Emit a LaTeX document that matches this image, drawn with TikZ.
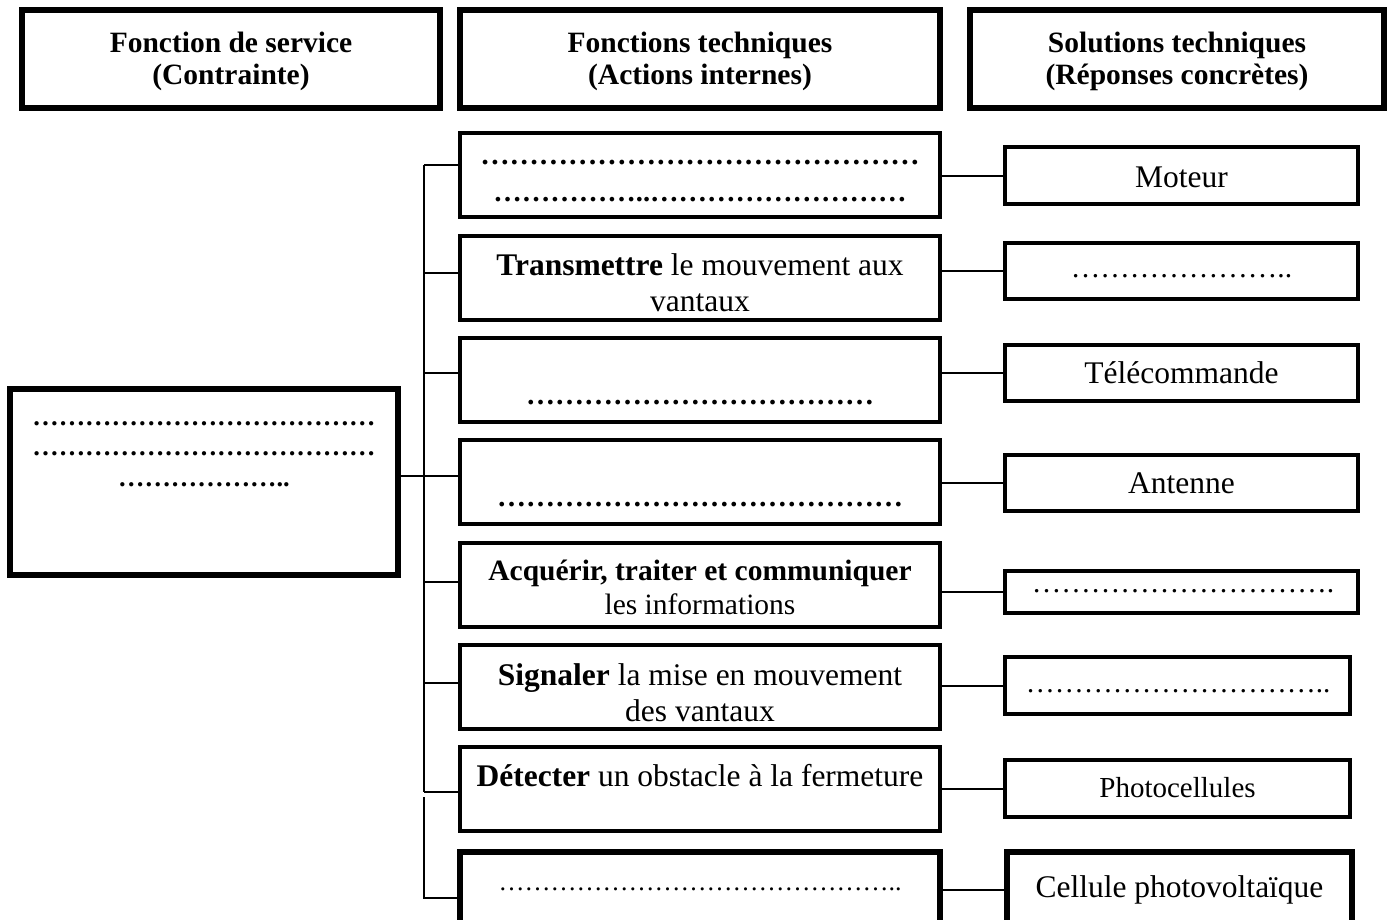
\documentclass[tikz,border=0pt]{standalone}
\usepackage{fontspec}
\setmainfont{Liberation Serif}
\newcommand\ellrep[1]{\foreach \k in {1,...,#1}{…}}
\begin{document}
\begin{tikzpicture}[x=1pt,y=-1pt,
  hdr/.style={draw, line width=5.5pt, inner sep=0pt, minimum height=98pt},
  mbox/.style={draw, line width=4pt, inner sep=0pt, minimum width=480pt, minimum height=84pt},
  rbox/.style={draw, line width=4pt, inner sep=0pt},
  heavy/.style={line width=6pt},
  conn/.style={line width=2pt},
  hdrtxt/.style={inner sep=0pt, align=center, font=\fontsize{29.5}{32}\selectfont\bfseries},
  mtxt/.style={inner sep=0pt, align=center, font=\fontsize{31.5}{36}\selectfont},
  stxt/.style={inner sep=0pt, align=center, font=\fontsize{29.5}{34}\selectfont},
  rtxt/.style={inner sep=0pt, align=center, font=\fontsize{31.5}{36}\selectfont},
  bdots/.style={inner sep=0pt, align=center, font=\fontsize{29}{37}\selectfont\bfseries},
  rdots/.style={inner sep=0pt, align=center, font=\fontsize{29.5}{34}\selectfont}]
\useasboundingbox (0,0) rectangle (1392,919);
\clip (0,0) rectangle (1392,919);
% header boxes
\node[hdr, minimum width=418pt] (H1) at (231,59) {};
\node[hdr, minimum width=480pt] (H2) at (700,59) {};
\node[hdr, minimum width=414pt] (H3) at (1177,59) {};
\node[hdrtxt] (H1t) at (231,61) {Fonction de service\\(Contrainte)};
\node[hdrtxt] (H2t) at (700,61) {Fonctions techniques\\(Actions internes)};
\node[hdrtxt] (H3t) at (1177,61) {Solutions techniques\\(Réponses concrètes)};
% left box
\node[draw, line width=6.5pt, inner sep=0pt, minimum width=388pt, minimum height=186pt] (L) at (204,482) {};
\node[inner sep=0pt, align=center, font=\fontsize{26.4}{30.5}\selectfont\bfseries] (Lt) at (204,454)
  {\ellrep{13}\\\ellrep{13}\\\ellrep{6}..};
% middle boxes
\node[mbox] (M1) at (700,175) {};
\node[mbox] (M2) at (700,278) {};
\node[mbox] (M3) at (700,380) {};
\node[mbox] (M4) at (700,482) {};
\node[mbox] (M5) at (700,584.5) {};
\node[mbox] (M6) at (700,686.5) {};
\node[mbox] (M7) at (700,788.5) {};
\node[mbox, heavy, minimum height=84pt] (M8) at (700,894) {};
\node[bdots] (M1t) at (700,181.5) {{\fontsize{29.3}{37}\selectfont\ellrep{15}}\\{\fontsize{28.5}{37}\selectfont\ellrep{5}..\ellrep{9}}};
\node[mtxt] (M2t) at (700,282.5) {\textbf{Transmettre} le mouvement aux\\vantaux};
\node[bdots] (M3t) at (700,403) {\ellrep{12}};
\node[bdots] (M4t) at (700,505) {\ellrep{14}};
\node[stxt] (M5t) at (700,587) {\textbf{Acquérir, traiter et communiquer}\\les informations};
\node[mtxt] (M6t) at (700,693) {\textbf{Signaler} la mise en mouvement\\des vantaux};
\node[mtxt] (M7t) at (700,776) {\textbf{Détecter} un obstacle à la fermeture};
\node[rdots, font=\fontsize{26}{30}\selectfont] (M8t) at (700,889) {\ellrep{15}..};
% right boxes
\node[rbox, minimum width=353pt, minimum height=57pt] (R1) at (1181.5,175.5) {};
\node[rbox, minimum width=353pt, minimum height=56pt] (R2) at (1181.5,271) {};
\node[rbox, minimum width=353pt, minimum height=56pt] (R3) at (1181.5,373) {};
\node[rbox, minimum width=353pt, minimum height=56pt] (R4) at (1181.5,483) {};
\node[rbox, minimum width=353pt, minimum height=42pt] (R5) at (1181.5,591.5) {};
\node[rbox, minimum width=345pt, minimum height=57pt] (R6) at (1177.5,685.5) {};
\node[rbox, minimum width=345pt, minimum height=57pt] (R7) at (1177.5,788.5) {};
\node[rbox, heavy, minimum width=345pt, minimum height=76pt] (R8) at (1179.5,890) {};
\node[rtxt] (R1t) at (1181.5,177) {Moteur};
\node[rdots] (R2t) at (1181.5,276) {\ellrep{7}..};
\node[rtxt] (R3t) at (1181.5,373) {Télécommande};
\node[rtxt] (R4t) at (1181.5,483) {Antenne};
\node[rdots] (R5t) at (1183,591) {\ellrep{10}.};
\node[rdots, font=\fontsize{29}{34}\selectfont] (R6t) at (1178,691) {\ellrep{10}..};
\node[rtxt, font=\fontsize{29}{34}\selectfont] (R7t) at (1177.5,788) {Photocellules};
\node[rtxt] (R8t) at (1179.5,890) {Cellule photovoltaïque};
% left trunk
\coordinate (t1) at (424,165);
\coordinate (t2) at (424,273);
\coordinate (t3) at (424,373);
\coordinate (t4) at (424,476);
\coordinate (t5) at (424,582);
\coordinate (t6) at (424,683);
\coordinate (t7) at (424,792);
\coordinate (b1) at (424,797);
\coordinate (b2) at (424,898);
\draw[conn] (t1) -- (t7);
\draw[conn] (t1) -- (t1 -| M1.west);
\draw[conn] (t2) -- (t2 -| M2.west);
\draw[conn] (t3) -- (t3 -| M3.west);
\draw[conn] (t4) -- (t4 -| M4.west);
\draw[conn] (t5) -- (t5 -| M5.west);
\draw[conn] (t6) -- (t6 -| M6.west);
\draw[conn] (t7) -- (t7 -| M7.west);
\draw[conn] (L.east |- t4) -- (t4);
\draw[conn] (b1) -- (b2) -- (b2 -| M8.west);
% middle to right
\draw[conn] (M1.east |- R1.west) -- (R1.west);
\draw[conn] (M2.east |- R2.west) -- (R2.west);
\draw[conn] (M3.east |- R3.west) -- (R3.west);
\draw[conn] (M4.east |- R4.west) -- (R4.west);
\draw[conn] (M5.east |- R5.west) -- (R5.west);
\draw[conn] (M6.east |- R6.west) -- (R6.west);
\draw[conn] (M7.east |- R7.west) -- (R7.west);
\draw[conn] (M8.east |- R8.west) -- (R8.west);
\end{tikzpicture}
\end{document}
